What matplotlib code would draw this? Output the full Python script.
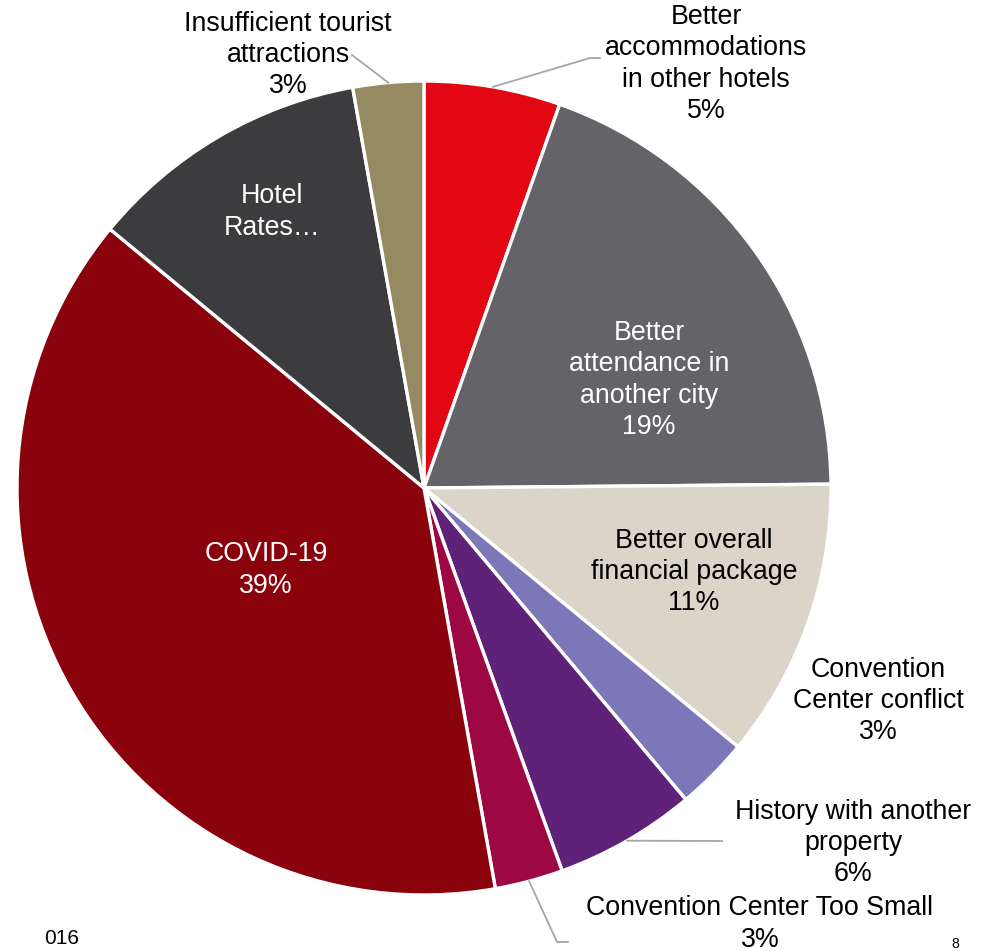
import matplotlib.pyplot as plt
import numpy as np

# slices, clockwise from 12 o'clock
labels = ["Better\naccommodations\nin other hotels", "Better\nattendance in\nanother city",
          "Better overall\nfinancial package", "Convention\nCenter conflict",
          "History with another\nproperty", "Convention Center Too Small",
          "COVID-19", "Hotel\nRates\u2026", "Insufficient tourist\nattractions"]
shares = [5.4, 19.4, 11.1, 2.9, 5.6, 2.7, 38.7, 11.2, 2.8]
pct_text = ["5%", "19%", "11%", "3%", "6%", "3%", "39%", "", "3%"]
colors = ["#E30613", "#636368", "#DAD5C8", "#7C77B9", "#5E2278",
          "#9E0842", "#8A030C", "#3C3C3E", "#968A62"]

# layout (pixel coords, origin bottom-left)
W, H = 986, 951
cx, cy, R = 424, H - 488, 407
txt_pos = [(706, H - 64), (649, H - 380), (694, H - 572), (878, H - 701),
           (853, H - 843), (760, H - 924), (266, H - 570), (272, H - 212), (288, H - 55)]
txt_col = ["black", "white", "black", "black", "black", "black", "white", "white", "black"]
# leader line bends (None = no leader)
leaders = [[(590, H - 58), (600, H - 58)], None, None, None,
           [(722, H - 841)], [(557, H - 942), (568, H - 942)], None, None,
           [(352, H - 55)]]

plt.rcParams['font.family'] = ['Liberation Sans', 'DejaVu Sans']
fig = plt.figure(figsize=(W / 100, H / 100), dpi=100)
ax = fig.add_axes([0, 0, 1, 1])

wedges, _ = ax.pie(shares, colors=colors, startangle=90, counterclock=False,
                   center=(cx, cy), radius=R, frame=True,
                   wedgeprops=dict(edgecolor='white', linewidth=2.4))
ax.set_xlim(0, W)
ax.set_ylim(0, H)
ax.axis('off')

for i, w in enumerate(wedges):
    s = labels[i] if not pct_text[i] else labels[i] + "\n" + pct_text[i]
    ax.text(txt_pos[i][0], txt_pos[i][1], s, ha='center', va='center',
            fontsize=19.3, color=txt_col[i], linespacing=1.26)
    if leaders[i]:
        mid = np.deg2rad((w.theta1 + w.theta2) / 2)
        pts = [(cx + R * np.cos(mid), cy + R * np.sin(mid))] + leaders[i]
        xs, ys = zip(*pts)
        ax.plot(xs, ys, color='#A6A6A6', lw=1.3)

ax.text(62, H - 938, "016", ha='center', va='center', fontsize=15)
ax.text(955, H - 944, "8", ha='center', va='center', fontsize=10)

fig.savefig("out.png", dpi=100)
